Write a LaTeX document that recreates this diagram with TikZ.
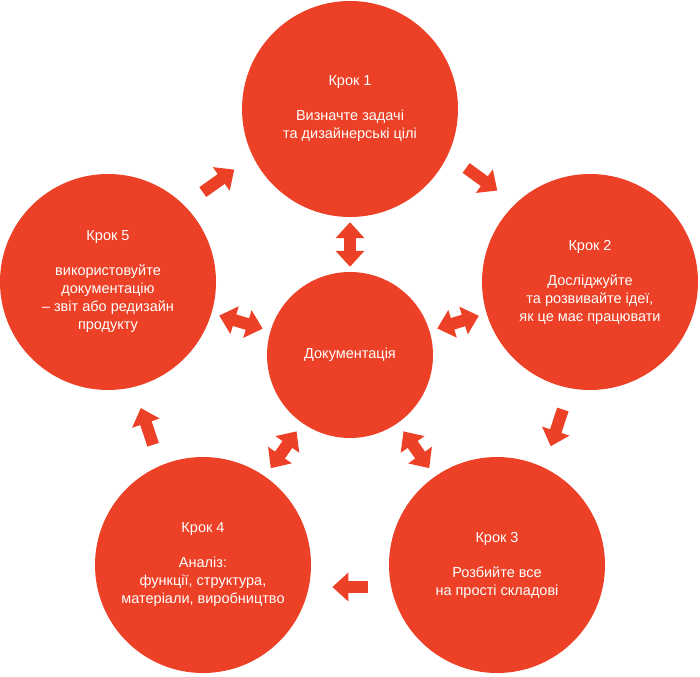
\documentclass[tikz,border=0pt]{standalone}
\usepackage{fontspec}
\setmainfont{Liberation Sans}
\usetikzlibrary{arrows.meta,calc}
\definecolor{stepred}{RGB}{236,65,38}

\begin{document}
\begin{tikzpicture}[
  x=1pt, y=-1pt,
  font=\fontsize{14.5}{18}\selectfont,
  stage/.style={circle, fill=stepred, text=white, minimum size=216pt, inner sep=0pt, align=center},
  hub/.style={stage, minimum size=166pt},
  arr/.style={draw=stepred, line width=12pt, -{Triangle[length=16pt, width=28pt]}},
  twoway/.style={arr, {Triangle[length=16pt, width=28pt]}-{Triangle[length=16pt, width=28pt]}}
]
\useasboundingbox (0,0) rectangle (700,676);

% Centre
\node[hub] (docs) at (350,355) {Документація};

% Outer steps
\node[stage] (step1) at (350,109) {Крок 1\\[17pt]Визначте задачі\\та дизайнерські цілі};
\node[stage] (step2) at (590,282) {Крок 2\\[17pt]Досліджуйте\\та розвивайте ідеї,\\як це має працювати};
\node[stage] (step3) at (497,565) {Крок 3\\[17pt]Розбийте все\\на прості складові};
\node[stage] (step4) at (203,565) {Крок 4\\[17pt]Аналіз:\\функції, структура,\\матеріали, виробництво};
\node[stage] (step5) at (108,282) {Крок 5\\[17pt]використовуйте\\документацію\\– звіт або редизайн\\продукту};

% Cycle arrows, pushed outwards
\draw[arr] ($(step1)!0.435!(step2)!20pt!90:(step2)$) -- ($(step1)!0.565!(step2)!20pt!90:(step2)$);
\draw[arr] ($(step2)!0.435!(step3)!14pt!90:(step3)$) -- ($(step2)!0.565!(step3)!14pt!90:(step3)$);
\draw[arr] ($(step3)!0.44!(step4)!22pt!90:(step4)$) -- ($(step3)!0.56!(step4)!22pt!90:(step4)$);
\draw[arr] ($(step4)!0.435!(step5)!9pt!90:(step5)$) -- ($(step4)!0.565!(step5)!9pt!90:(step5)$);
\draw[arr] ($(step5)!0.435!(step1)!18pt!90:(step1)$) -- ($(step5)!0.565!(step1)!18pt!90:(step1)$);

% Two-way arrows to the centre
\draw[twoway, shorten <=5pt, shorten >=5pt] (docs) -- (step1);
\draw[twoway, shorten <=8pt, shorten >=8pt] (docs) -- (step2);
\draw[twoway, shorten <=10pt, shorten >=10pt] (docs) -- (step3);
\draw[twoway, shorten <=10pt, shorten >=10pt] (docs) -- (step4);
\draw[twoway, shorten <=8pt, shorten >=8pt] (docs) -- (step5);
\end{tikzpicture}
\end{document}
